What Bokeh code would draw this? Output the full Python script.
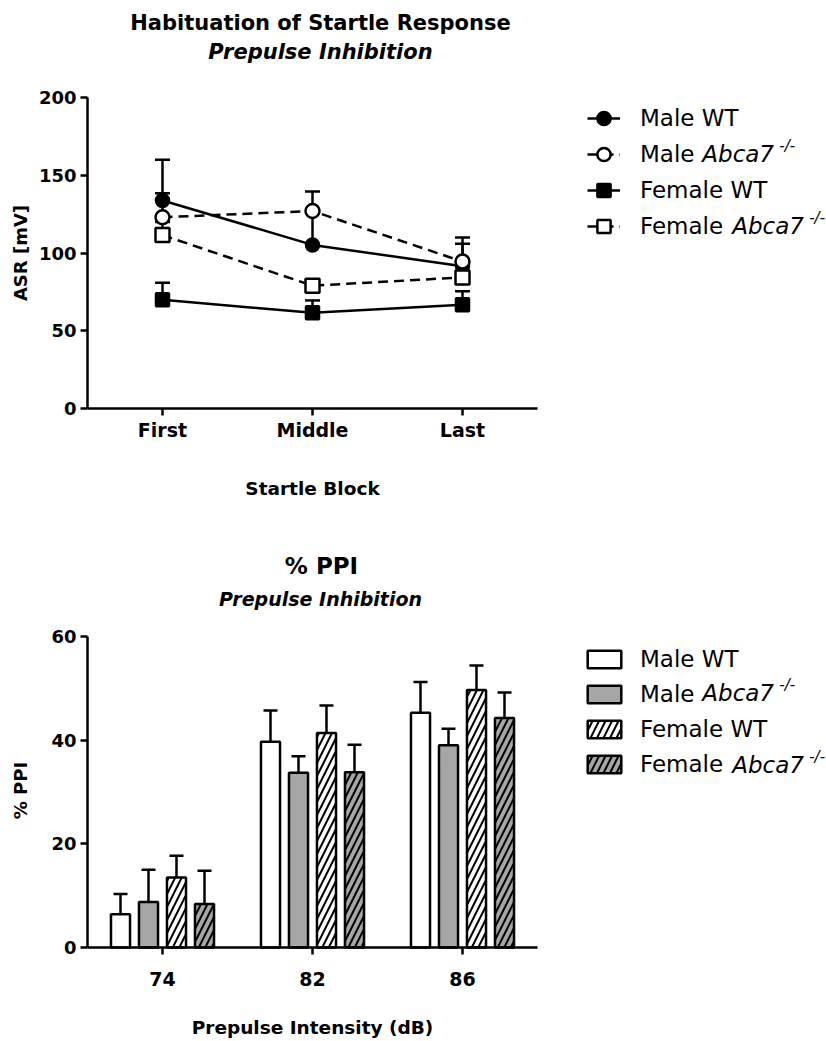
import math
from bokeh.plotting import figure
from bokeh.models import (ColumnDataSource, Range1d, FixedTicker,
                          Whisker, TeeHead, Legend, LegendItem, Label)
from bokeh.transform import dodge
from bokeh.layouts import column
from bokeh.embed import file_html
from bokeh.resources import INLINE

FONT = "DejaVu Sans"

# ---------------- data: habituation of startle response ----------------
blocks = ["First", "Middle", "Last"]
male_wt = [133.8, 105.2, 91.5]
male_wt_err = [160.0, 126.0, 106.0]
male_ko = [123.0, 127.0, 94.5]
male_ko_err = [138.5, 139.5, 110.0]
female_wt = [70.0, 61.5, 66.7]
female_wt_err = [80.8, 69.5, 75.4]
female_ko = [111.5, 79.0, 84.3]
female_ko_err = [120.0, 83.0, 92.0]
asr_ticks = [0, 50, 100, 150, 200]

# ---------------- data: % PPI ----------------
intensities = ["74", "82", "86"]
ppi_male_wt = [6.4, 39.7, 45.3]
ppi_male_wt_err = [10.3, 45.7, 51.2]
ppi_male_ko = [8.8, 33.7, 39.0]
ppi_male_ko_err = [15.0, 36.9, 42.2]
ppi_female_wt = [13.5, 41.4, 49.7]
ppi_female_wt_err = [17.7, 46.7, 54.4]
ppi_female_ko = [8.4, 33.8, 44.3]
ppi_female_ko_err = [14.8, 39.1, 49.2]
ppi_ticks = [0, 20, 40, 60]

legend_names = ["Male WT", "Male", "Female WT", "Female"]

# ---------------- layout constants (pixels) ----------------
W = 826
X0_PX = 162          # page x of first category
PX_PER_CAT = 150
X_START = -X0_PX / PX_PER_CAT
X_END = (W - X0_PX) / PX_PER_CAT
GRAY = "#a6a6a6"


def make_fig(height, fig_top, zero_px, top_px, ymax):
    ppu = (zero_px - top_px) / ymax
    z = zero_px - fig_top
    p = figure(width=W, height=height, x_range=Range1d(X_START, X_END),
               y_range=Range1d(-(height - z) / ppu, z / ppu),
               output_backend="svg", toolbar_location=None,
               min_border_left=0, min_border_right=0,
               min_border_top=0, min_border_bottom=0)
    p.xgrid.visible = False
    p.ygrid.visible = False
    p.outline_line_color = None
    p.background_fill_color = "white"
    p.border_fill_color = "white"
    return p


def style(p, ticks, cats, ymax, x_standoff):
    for ax in (p.xaxis[0], p.yaxis[0]):
        ax.axis_line_width = 2.5
        ax.major_tick_line_width = 2.5
        ax.major_tick_out = 7
        ax.major_tick_in = 0
        ax.minor_tick_line_color = None
        ax.major_label_text_font = FONT
        ax.major_label_text_font_style = "bold"
        ax.major_label_text_color = "black"
    p.yaxis[0].major_label_text_font_size = "18px"
    p.xaxis[0].major_label_text_font_size = "19px"
    p.yaxis[0].major_label_standoff = 4
    p.xaxis[0].major_label_standoff = x_standoff
    p.yaxis[0].ticker = FixedTicker(ticks=ticks)
    p.yaxis[0].bounds = (0, ymax)
    p.yaxis[0].fixed_location = -0.5
    p.xaxis[0].ticker = FixedTicker(ticks=list(range(len(cats))))
    p.xaxis[0].major_label_overrides = {i: c for i, c in enumerate(cats)}
    p.xaxis[0].bounds = (-0.5, len(cats) - 0.5)
    p.xaxis[0].fixed_location = 0


def text(p, height, fig_top, x, page_y, s, size, style_="bold", angle=0.0, align="center"):
    p.add_layout(Label(x=x, y=height - (page_y - fig_top), x_units="screen", y_units="screen",
                       text=s, text_font=FONT, text_font_size=size, text_font_style=style_,
                       text_align=align, text_baseline="middle", angle=angle,
                       text_color="black"))


def add_italics(p, height, fig_top, rows_page):
    # "Abca7" in italics with superscript -/- after "Male " / "Female "
    for idx, prefix_w in ((1, 61.8), (3, 91.7)):
        x = 640 + prefix_w
        text(p, height, fig_top, x, rows_page[idx], "Abca7", "23px", "italic", align="left")
        text(p, height, fig_top, x + 77, rows_page[idx] - 8, "-/-", "15px", "italic", align="left")


# ======================= top: line chart =======================
H1, T1 = 530, 0
top = make_fig(H1, T1, 408, 97, 200)
style(top, asr_ticks, blocks, 200, 3)

src = ColumnDataSource(dict(x=list(range(len(blocks))),
                            mwt=male_wt, mwt_err=male_wt_err,
                            mko=male_ko, mko_err=male_ko_err,
                            fwt=female_wt, fwt_err=female_wt_err,
                            fko=female_ko, fko_err=female_ko_err))

series = [("mwt", "circle", "black", "solid"),
          ("mko", "circle", "white", "10 6"),
          ("fwt", "square", "black", "solid"),
          ("fko", "square", "white", "10 6")]
items = []
for name, (key, marker, fill, dash) in zip(legend_names, series):
    top.add_layout(Whisker(source=src, base="x", upper=key + "_err", lower=key,
                           line_width=2.5, line_color="black",
                           upper_head=TeeHead(size=15, line_width=2.5, line_color="black"),
                           lower_head=None))
    rl = top.line("x", key, source=src, line_width=2.5, line_color="black", line_dash=dash)
    rm = top.scatter("x", key, source=src, marker=marker, size=14 if fill == "white" else 13,
                     fill_color=fill, line_color="black", line_width=2.5)
    items.append(LegendItem(label=name, renderers=[rl, rm]))

leg = Legend(items=items, location=(587, H1 - 243.5), orientation="vertical",
             padding=0, spacing=0, margin=0, glyph_width=33, glyph_height=36,
             label_height=36, label_standoff=20, label_text_font=FONT,
             label_text_font_size="23px", label_text_color="black",
             border_line_color=None, background_fill_alpha=0)
top.add_layout(leg)
add_italics(top, H1, T1, [117.5 + 36 * i for i in range(4)])
text(top, H1, T1, 320, 22, "Habituation of Startle Response", "21px")
text(top, H1, T1, 320, 51, "Prepulse Inhibition", "21px", "bold italic")
text(top, H1, T1, 312, 487.5, "Startle Block", "18.5px")
text(top, H1, T1, 19.5, 252.5, "ASR [mV]", "18px", angle=math.pi / 2)

# ======================= bottom: bar chart =======================
H2, T2 = 510, 530
bot = make_fig(H2, T2, 947, 636, 60)
style(bot, ppi_ticks, intensities, 60, 17)

bsrc = ColumnDataSource(dict(x=list(range(len(intensities))),
                             mwt=ppi_male_wt, mwt_err=ppi_male_wt_err,
                             mko=ppi_male_ko, mko_err=ppi_male_ko_err,
                             fwt=ppi_female_wt, fwt_err=ppi_female_wt_err,
                             fko=ppi_female_ko, fko_err=ppi_female_ko_err))
bar_series = [("mwt", -0.28, "white", None),
              ("mko", -0.0933, GRAY, None),
              ("fwt", 0.0933, "white", "/"),
              ("fko", 0.28, GRAY, "/")]
bitems = []
for name, (key, off, fill, hatch) in zip(legend_names, bar_series):
    kw = {}
    if hatch:
        kw = dict(hatch_pattern=hatch, hatch_color="black", hatch_weight=2, hatch_scale=13)
    r = bot.vbar(x=dodge("x", off), top=key, bottom=0, width=0.127,
                 source=bsrc, fill_color=fill, line_color="black", line_width=2.5, **kw)
    bot.add_layout(Whisker(source=bsrc, base=dodge("x", off),
                           upper=key + "_err", lower=key, line_width=2.5, line_color="black",
                           upper_head=TeeHead(size=14, line_width=2.5, line_color="black"),
                           lower_head=None))
    bitems.append(LegendItem(label=name, renderers=[r]))

bleg = Legend(items=bitems, location=(583, H2 - (777 - T2)), orientation="vertical",
              padding=0, spacing=9, margin=0, glyph_width=42, glyph_height=22,
              label_height=22, label_standoff=15, label_text_font=FONT,
              label_text_font_size="23px", label_text_color="black",
              border_line_color=None, background_fill_alpha=0)
bot.add_layout(bleg)
add_italics(bot, H2, T2, [656 + 36 * i for i in range(4)])
text(bot, H2, T2, 321, 565, "% PPI", "23px")
text(bot, H2, T2, 320, 598, "Prepulse Inhibition", "19px", "bold italic")
text(bot, H2, T2, 312, 1027, "Prepulse Intensity (dB)", "18.5px")
text(bot, H2, T2, 19.5, 790, "% PPI", "18px", angle=math.pi / 2)

layout = column(top, bot, spacing=0)
open("out.html", "w").write(file_html(layout, INLINE))
